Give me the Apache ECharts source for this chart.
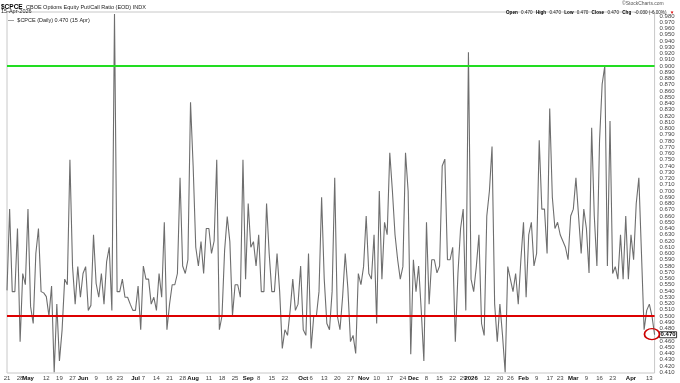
<!DOCTYPE html>
<html>
<head>
<meta charset="utf-8">
<script src="https://cdn.jsdelivr.net/npm/echarts@6/dist/echarts.min.js"></script>
<style>
html,body{margin:0;padding:0;background:#fff;}
#chart{width:680px;height:383px;}
</style>
</head>
<body>
<div id="chart"></div>
<script>
// ---- data ----
const startDate = '2025-04-21';
const endDate = '2026-04-15';
const holidays = ['2025-05-26','2025-06-19','2025-07-04','2025-09-01','2025-11-27','2025-12-25','2026-01-01','2026-01-19','2026-02-16','2026-04-03'];
const monthNames = ['2026','Feb','Mar','Apr','May','Jun','Jul','Aug','Sep','Oct','Nov','Dec'];
const ratioValues = [
0.541,0.671,0.539,0.539,0.640,0.459,0.568,0.550,0.671,0.515,
0.488,0.600,0.640,0.539,0.537,0.531,0.500,0.548,0.410,0.519,
0.428,0.477,0.559,0.550,0.750,0.579,0.519,0.579,0.530,0.568,
0.579,0.509,0.517,0.630,0.552,0.530,0.568,0.519,0.587,0.610,
0.509,0.983,0.539,0.539,0.559,0.530,0.530,0.519,0.509,0.509,
0.548,0.478,0.580,0.559,0.559,0.519,0.530,0.509,0.568,0.530,
0.650,0.478,0.519,0.550,0.550,0.568,0.721,0.580,0.568,0.590,
0.842,0.740,0.610,0.580,0.619,0.568,0.640,0.640,0.600,0.620,
0.750,0.478,0.500,0.605,0.659,0.619,0.501,0.550,0.550,0.530,
0.750,0.559,0.680,0.610,0.619,0.580,0.630,0.539,0.539,0.680,
0.600,0.539,0.539,0.600,0.539,0.448,0.478,0.469,0.509,0.559,
0.509,0.519,0.580,0.478,0.469,0.600,0.448,0.500,0.500,0.539,
0.690,0.559,0.488,0.478,
0.539,0.721,0.500,0.478,0.530,0.600,0.545,0.459,0.469,0.440,
0.568,0.550,0.579,0.660,0.568,0.559,0.630,0.488,0.700,0.559,
0.650,0.630,0.761,0.700,0.630,0.590,0.559,0.579,0.761,0.700,
0.439,0.590,0.539,0.580,0.509,0.428,0.650,0.519,0.590,0.590,
0.569,0.580,0.740,0.751,0.590,0.590,0.610,0.459,0.568,0.640,
0.671,0.509,0.922,0.559,0.539,0.579,0.630,0.488,0.469,0.660,
0.700,0.771,0.519,0.459,0.519,0.469,0.410,0.579,0.559,0.539,
0.568,0.519,0.590,0.650,0.530,0.630,0.650,0.580,0.600,0.781,
0.671,0.671,0.600,0.832,0.690,0.640,0.650,0.630,0.620,0.610,
0.590,0.660,0.671,0.721,0.660,0.600,0.671,0.640,0.569,0.801,
0.660,0.580,0.780,0.871,0.900,0.580,0.812,0.568,0.579,0.559,
0.630,0.559,0.660,0.559,0.630,0.590,0.680,0.721,0.600,0.478,
0.509,0.519,0.500,0.470
];
const yTicks = [0.41,0.42,0.43,0.44,0.45,0.46,0.47,0.48,0.49,0.50,0.51,0.52,0.53,0.54,0.55,0.56,0.57,0.58,0.59,0.60,
0.61,0.62,0.63,0.64,0.65,0.66,0.67,0.68,0.69,0.70,0.71,0.72,0.73,0.74,0.75,0.76,0.77,0.78,0.79,0.80,
0.81,0.82,0.83,0.84,0.85,0.86,0.87,0.88,0.89,0.90,0.91,0.92,0.93,0.94,0.95,0.96,0.97,0.98];
const upperLevel = 0.900;
const lowerLevel = 0.500;
const lastValue = 0.470;

// ---- trading calendar ----
function fmt(d){return d.toISOString().slice(0,10);}
const dates = [];
{
  let d = new Date(startDate + 'T00:00:00Z');
  const end = new Date(endDate + 'T00:00:00Z');
  while (d <= end) {
    const wd = d.getUTCDay();
    const s = fmt(d);
    if (wd !== 0 && wd !== 6 && holidays.indexOf(s) < 0) dates.push(s);
    d = new Date(d.getTime() + 86400000);
  }
}
const n = Math.min(dates.length, ratioValues.length);
const cats = dates.slice(dates.length - n);
const vals = ratioValues.slice(ratioValues.length - n);

// label map
const monthStart = [];
const weekStart = [];
for (let i = 0; i < cats.length; i++) {
  const cur = new Date(cats[i] + 'T00:00:00Z');
  if (i === 0) { weekStart.push(i); continue; }
  const prev = new Date(cats[i-1] + 'T00:00:00Z');
  if (cur.getUTCMonth() !== prev.getUTCMonth()) monthStart.push(i);
  if ((cur - prev) / 86400000 > 1 && cur.getUTCDay() <= prev.getUTCDay() || (cur - prev)/86400000 > 3) weekStart.push(i);
}
const labelMap = {};
weekStart.forEach(i => {
  if (monthStart.some(m => Math.abs(m - i) <= 2)) return;
  labelMap[i] = '{n|' + parseInt(cats[i].slice(8), 10) + '}';
});
monthStart.forEach(i => {
  const m = parseInt(cats[i].slice(5,7), 10);
  labelMap[i] = '{b|' + monthNames[m - 1] + '}';
});

const chart = echarts.init(document.getElementById('chart'), null, {renderer: 'canvas'});
const FONT = 'Liberation Sans';
chart.setOption({
  animation: false,
  backgroundColor: '#fff',
  grid: {left: 7, right: 21, top: 12, bottom: 10, show: true, borderColor: '#c8c8c8', borderWidth: 1, backgroundColor: 'transparent'},
  xAxis: {
    type: 'category',
    data: cats,
    boundaryGap: false,
    axisLine: {show: false},
    axisTick: {show: false},
    splitLine: {show: false},
    axisLabel: {
      margin: 2,
      interval: (idx) => labelMap[idx] !== undefined,
      hideOverlap: false,
      formatter: (val, idx) => labelMap[idx] || '',
      rich: {
        n: {fontFamily: FONT, fontSize: 6, color: '#444'},
        b: {fontFamily: FONT, fontSize: 6, color: '#111', fontWeight: 'bold'}
      }
    }
  },
  yAxis: {
    type: 'value',
    position: 'right',
    min: 0.4088,
    max: 0.9864,
    axisLine: {show: false},
    axisTick: {show: false},
    splitLine: {show: false},
    axisLabel: {
      customValues: yTicks,
      margin: 5,
      fontFamily: FONT,
      fontSize: 6,
      color: '#444',
      formatter: (v) => Math.abs(v - lastValue) < 1e-6 ? '{hl|' + v.toFixed(3) + '}' : v.toFixed(3),
      rich: {
        hl: {fontFamily: FONT, fontSize: 6, color: '#000', fontWeight: 'bold', borderColor: '#000', borderWidth: 0.8, padding: [0, 1, 0, 1]}
      }
    }
  },
  series: [{
    type: 'line',
    data: vals,
    symbol: 'none',
    lineStyle: {color: '#6e6e6e', width: 1.1},
    markLine: {
      silent: true,
      symbol: 'none',
      label: {show: false},
      data: [
        {yAxis: upperLevel, lineStyle: {color: '#22dd22', width: 2, type: 'solid'}},
        {yAxis: lowerLevel, lineStyle: {color: '#dd0000', width: 2, type: 'solid'}}
      ]
    },
    markPoint: {
      silent: true,
      symbol: 'circle',
      symbolSize: [15, 11],
      label: {show: false},
      itemStyle: {color: 'rgba(0,0,0,0)', borderColor: '#cc0000', borderWidth: 1.5},
      data: [{coord: [cats[cats.length - 2], lastValue + 0.001]}]
    }
  }],
  graphic: [
    {type: 'text', left: 1, top: 1, style: {text: '{b|$CPCE} {n|CBOE Options Equity Put/Call Ratio (EOD) INDX}', rich: {b: {fontFamily: FONT, fontSize: 6.5, fontWeight: 'bold', fill: '#000'}, n: {fontFamily: FONT, fontSize: 5.5, fill: '#222'}}}},
    {type: 'text', left: 1, top: 8, style: {text: '15-Apr-2026', fontFamily: FONT, fontSize: 5.5, fill: '#222'}},
    {type: 'text', left: 8, top: 14, style: {text: '{l|\u2014} {n|$CPCE (Daily) 0.470 (15 Apr)}', rich: {l: {fontFamily: FONT, fontSize: 6, fill: '#555', fontWeight: 'bold'}, n: {fontFamily: FONT, fontSize: 5.5, fill: '#222'}}}},
    {type: 'text', left: 622, top: 1, style: {text: '\u00a9StockCharts.com', fontFamily: FONT, fontSize: 5, fill: '#555'}},
    {type: 'text', left: 506, top: 7, style: {text: '{b|Open} {n|0.470} {b|High} {n|0.470} {b|Low} {n|0.470} {b|Close} {n|0.470} {b|Chg} {n|-0.030 (-6.00%)} {r|\u25BC}', rich: {b: {fontFamily: FONT, fontSize: 4.6, fontWeight: 'bold', fill: '#000'}, n: {fontFamily: FONT, fontSize: 4.6, fill: '#222'}, r: {fontFamily: FONT, fontSize: 4.6, fill: '#dd0000'}}}}
  ]
});
</script>
</body>
</html>
